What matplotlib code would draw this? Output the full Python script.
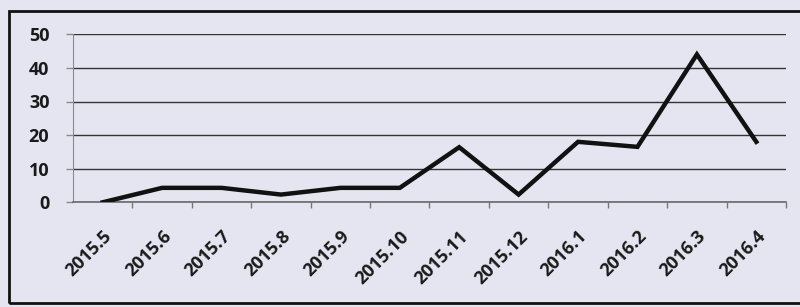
import matplotlib.pyplot as plt
import matplotlib.transforms as mtransforms
from matplotlib.patches import Rectangle

# monthly values
months = ['2015.5', '2015.6', '2015.7', '2015.8', '2015.9', '2015.10',
          '2015.11', '2015.12', '2016.1', '2016.2', '2016.3', '2016.4']
values = [0, 4.3, 4.3, 2.3, 4.3, 4.3, 16.4, 2.3, 18, 16.5, 44, 18]
y_ticks = [0, 10, 20, 30, 40, 50]

W, H = 800, 307
bg = '#e5e5f1'
fig = plt.figure(figsize=(W / 100, H / 100), dpi=100, facecolor=bg)

# outer chart frame (right edge runs off the scan)
fig.patches.append(Rectangle((9 / W, 1 - 303 / H), 800 / W, (303 - 11) / H,
                             transform=fig.transFigure, fill=False,
                             edgecolor='#111111', linewidth=2))

ax = fig.add_axes([73 / W, 1 - 202.3 / H, (786 - 73) / W, (202.3 - 34.3) / H])
ax.set_facecolor(bg)

x = list(range(len(months)))
ax.plot(x, values, color='#111111', linewidth=3.2, solid_joinstyle='miter', zorder=3)

ax.set_xlim(-0.5, len(months) - 0.5)
ax.set_ylim(0, 50)
ax.set_yticks(y_ticks)
ax.set_yticklabels([str(v) for v in y_ticks], fontsize=13, fontweight='bold',
                   family='Open Sans', color='#1a1a1a')
ax.yaxis.grid(True, color='#333333', linewidth=1.0)
ax.set_axisbelow(True)

ax.set_xticks(x)
ax.set_xticklabels(months, rotation=45, ha='right', rotation_mode='anchor',
                   fontsize=13, fontweight='bold', family='Open Sans', color='#1a1a1a')
shift = mtransforms.ScaledTranslation(4 / 100, 0, fig.dpi_scale_trans)
for lab in ax.get_xticklabels():
    lab.set_transform(lab.get_transform() + shift)
ax.tick_params(axis='x', length=0, pad=18)
ax.tick_params(axis='y', length=5, color='#8a8a8a', width=1, pad=12)
# tick marks between categories
ax.set_xticks([i + 0.5 for i in x], minor=True)
ax.tick_params(axis='x', which='minor', length=4, color='#777777', width=1)

for s in ['top', 'right']:
    ax.spines[s].set_visible(False)
ax.spines['left'].set_color('#8a8a8a')
ax.spines['bottom'].set_color('#6a6a6a')
ax.spines['bottom'].set_linewidth(1.2)

fig.savefig('out.png', dpi=100, facecolor=bg)
